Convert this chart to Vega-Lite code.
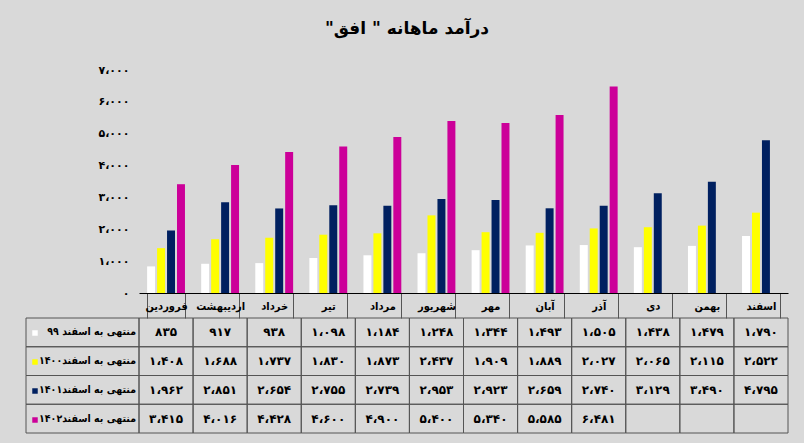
{
  "$schema": "https://vega.github.io/schema/vega-lite/v6.json",
  "background": "#d9d9d9",
  "padding": {"left": 25, "top": 20, "right": 17, "bottom": 10},
  "title": {"text": "درآمد ماهانه \" افق\"‏", "font": "DejaVu Sans", "fontSize": 17, "fontWeight": "bold", "color": "#000000", "anchor": "middle", "offset": 26},
  "config": {"view": {"stroke": null}, "font": "DejaVu Sans"},
  "datasets": {
    "d": [
      {"month": "فروردین", "series": "منتهی به اسفند ۹۹", "value": 835, "label": "۸۳۵"},
      {"month": "اردیبهشت", "series": "منتهی به اسفند ۹۹", "value": 917, "label": "۹۱۷"},
      {"month": "خرداد", "series": "منتهی به اسفند ۹۹", "value": 938, "label": "۹۳۸"},
      {"month": "تیر", "series": "منتهی به اسفند ۹۹", "value": 1098, "label": "۱،۰۹۸"},
      {"month": "مرداد", "series": "منتهی به اسفند ۹۹", "value": 1184, "label": "۱،۱۸۴"},
      {"month": "شهریور", "series": "منتهی به اسفند ۹۹", "value": 1248, "label": "۱،۲۴۸"},
      {"month": "مهر", "series": "منتهی به اسفند ۹۹", "value": 1344, "label": "۱،۳۴۴"},
      {"month": "آبان", "series": "منتهی به اسفند ۹۹", "value": 1493, "label": "۱،۴۹۳"},
      {"month": "آذر", "series": "منتهی به اسفند ۹۹", "value": 1505, "label": "۱،۵۰۵"},
      {"month": "دی", "series": "منتهی به اسفند ۹۹", "value": 1438, "label": "۱،۴۳۸"},
      {"month": "بهمن", "series": "منتهی به اسفند ۹۹", "value": 1479, "label": "۱،۴۷۹"},
      {"month": "اسفند", "series": "منتهی به اسفند ۹۹", "value": 1790, "label": "۱،۷۹۰"},
      {"month": "فروردین", "series": "منتهی به اسفند۱۴۰۰", "value": 1408, "label": "۱،۴۰۸"},
      {"month": "اردیبهشت", "series": "منتهی به اسفند۱۴۰۰", "value": 1688, "label": "۱،۶۸۸"},
      {"month": "خرداد", "series": "منتهی به اسفند۱۴۰۰", "value": 1737, "label": "۱،۷۳۷"},
      {"month": "تیر", "series": "منتهی به اسفند۱۴۰۰", "value": 1830, "label": "۱،۸۳۰"},
      {"month": "مرداد", "series": "منتهی به اسفند۱۴۰۰", "value": 1873, "label": "۱،۸۷۳"},
      {"month": "شهریور", "series": "منتهی به اسفند۱۴۰۰", "value": 2437, "label": "۲،۴۳۷"},
      {"month": "مهر", "series": "منتهی به اسفند۱۴۰۰", "value": 1909, "label": "۱،۹۰۹"},
      {"month": "آبان", "series": "منتهی به اسفند۱۴۰۰", "value": 1889, "label": "۱،۸۸۹"},
      {"month": "آذر", "series": "منتهی به اسفند۱۴۰۰", "value": 2027, "label": "۲،۰۲۷"},
      {"month": "دی", "series": "منتهی به اسفند۱۴۰۰", "value": 2065, "label": "۲،۰۶۵"},
      {"month": "بهمن", "series": "منتهی به اسفند۱۴۰۰", "value": 2115, "label": "۲،۱۱۵"},
      {"month": "اسفند", "series": "منتهی به اسفند۱۴۰۰", "value": 2522, "label": "۲،۵۲۲"},
      {"month": "فروردین", "series": "منتهی به اسفند۱۴۰۱", "value": 1962, "label": "۱،۹۶۲"},
      {"month": "اردیبهشت", "series": "منتهی به اسفند۱۴۰۱", "value": 2851, "label": "۲،۸۵۱"},
      {"month": "خرداد", "series": "منتهی به اسفند۱۴۰۱", "value": 2654, "label": "۲،۶۵۴"},
      {"month": "تیر", "series": "منتهی به اسفند۱۴۰۱", "value": 2755, "label": "۲،۷۵۵"},
      {"month": "مرداد", "series": "منتهی به اسفند۱۴۰۱", "value": 2739, "label": "۲،۷۳۹"},
      {"month": "شهریور", "series": "منتهی به اسفند۱۴۰۱", "value": 2953, "label": "۲،۹۵۳"},
      {"month": "مهر", "series": "منتهی به اسفند۱۴۰۱", "value": 2923, "label": "۲،۹۲۳"},
      {"month": "آبان", "series": "منتهی به اسفند۱۴۰۱", "value": 2659, "label": "۲،۶۵۹"},
      {"month": "آذر", "series": "منتهی به اسفند۱۴۰۱", "value": 2740, "label": "۲،۷۴۰"},
      {"month": "دی", "series": "منتهی به اسفند۱۴۰۱", "value": 3129, "label": "۳،۱۲۹"},
      {"month": "بهمن", "series": "منتهی به اسفند۱۴۰۱", "value": 3490, "label": "۳،۴۹۰"},
      {"month": "اسفند", "series": "منتهی به اسفند۱۴۰۱", "value": 4795, "label": "۴،۷۹۵"},
      {"month": "فروردین", "series": "منتهی به اسفند۱۴۰۲", "value": 3415, "label": "۳،۴۱۵"},
      {"month": "اردیبهشت", "series": "منتهی به اسفند۱۴۰۲", "value": 4016, "label": "۴،۰۱۶"},
      {"month": "خرداد", "series": "منتهی به اسفند۱۴۰۲", "value": 4428, "label": "۴،۴۲۸"},
      {"month": "تیر", "series": "منتهی به اسفند۱۴۰۲", "value": 4600, "label": "۴،۶۰۰"},
      {"month": "مرداد", "series": "منتهی به اسفند۱۴۰۲", "value": 4900, "label": "۴،۹۰۰"},
      {"month": "شهریور", "series": "منتهی به اسفند۱۴۰۲", "value": 5400, "label": "۵،۴۰۰"},
      {"month": "مهر", "series": "منتهی به اسفند۱۴۰۲", "value": 5340, "label": "۵،۳۴۰"},
      {"month": "آبان", "series": "منتهی به اسفند۱۴۰۲", "value": 5585, "label": "۵،۵۸۵"},
      {"month": "آذر", "series": "منتهی به اسفند۱۴۰۲", "value": 6481, "label": "۶،۴۸۱"},
      {"month": "دی", "series": "منتهی به اسفند۱۴۰۲", "value": null, "label": ""},
      {"month": "بهمن", "series": "منتهی به اسفند۱۴۰۲", "value": null, "label": ""},
      {"month": "اسفند", "series": "منتهی به اسفند۱۴۰۲", "value": null, "label": ""}
    ]
  },
  "data": {"name": "d"},
  "columns": 2,
  "spacing": {"row": 25, "column": 0},
  "bounds": "flush",
  "concat": [
    {
      "width": 113, "height": 223,
      "data": {"values": [{"a": 1}]},
      "mark": {"type": "text", "text": ""},
      "encoding": {}
    },
    {
      "width": 649, "height": 223,
      "mark": {"type": "bar"},
      "encoding": {
        "x": {
          "field": "month", "type": "nominal",
          "sort": ["فروردین", "اردیبهشت", "خرداد", "تیر", "مرداد", "شهریور", "مهر", "آبان", "آذر", "دی", "بهمن", "اسفند"],
          "scale": {"paddingInner": 0.3, "paddingOuter": 0.15},
          "axis": {"title": null, "orient": "bottom", "labelAngle": 0, "tickBand": "extent", "tickSize": 25, "tickColor": "#555555", "domainColor": "#000000", "labelFont": "DejaVu Sans Condensed", "labelFontWeight": "bold", "labelFontSize": 11, "labelColor": "#000000", "labelPadding": -12, "labelBaseline": "middle", "labelLimit": 52}
        },
        "xOffset": {"field": "series", "type": "nominal", "sort": ["منتهی به اسفند ۹۹", "منتهی به اسفند۱۴۰۰", "منتهی به اسفند۱۴۰۱", "منتهی به اسفند۱۴۰۲"], "scale": {"paddingInner": 0.2}},
        "y": {
          "field": "value", "type": "quantitative",
          "scale": {"domain": [0, 7000]},
          "axis": {"title": null, "values": [0, 1000, 2000, 3000, 4000, 5000, 6000, 7000], "grid": false, "domain": false, "ticks": false, "labelPadding": 10, "labelFontWeight": "bold", "labelFontSize": 11, "labelColor": "#000000",
            "labelExpr": "['۰','۱،۰۰۰','۲،۰۰۰','۳،۰۰۰','۴،۰۰۰','۵،۰۰۰','۶،۰۰۰','۷،۰۰۰'][round(datum.value/1000)]"}
        },
        "color": {
          "field": "series", "type": "nominal",
          "scale": {"domain": ["منتهی به اسفند ۹۹", "منتهی به اسفند۱۴۰۰", "منتهی به اسفند۱۴۰۱", "منتهی به اسفند۱۴۰۲"], "range": ["#ffffff", "#ffff00", "#002060", "#cc0099"]},
          "legend": {"orient": "none", "legendX": 4, "legendY": 258, "title": null, "symbolType": "square", "symbolSize": 30, "symbolStrokeWidth": 0, "labelExpr": "''", "labelLimit": 1, "rowPadding": 19, "direction": "vertical"}
        }
      }
    },
    {
      "width": 113, "height": 115,
      "transform": [{"aggregate": [{"op": "count", "as": "n"}], "groupby": ["series"]}],
      "encoding": {
        "y": {"field": "series", "type": "nominal", "sort": ["منتهی به اسفند ۹۹", "منتهی به اسفند۱۴۰۰", "منتهی به اسفند۱۴۰۱", "منتهی به اسفند۱۴۰۲"], "scale": {"paddingInner": 0, "paddingOuter": 0}, "axis": null}
      },
      "layer": [
        {"mark": {"type": "rect", "fill": "transparent", "stroke": "#555555", "strokeWidth": 1}},
        {"mark": {"type": "text", "align": "right", "dx": -3, "limit": 104, "fontWeight": "bold", "fontSize": 10.5, "color": "#000000", "font": "DejaVu Sans Condensed"},
         "encoding": {"x": {"value": "width"}, "text": {"field": "series"}}}
      ]
    },
    {
      "width": 649, "height": 115,
      "encoding": {
        "x": {"field": "month", "type": "nominal", "sort": ["فروردین", "اردیبهشت", "خرداد", "تیر", "مرداد", "شهریور", "مهر", "آبان", "آذر", "دی", "بهمن", "اسفند"], "scale": {"paddingInner": 0, "paddingOuter": 0}, "axis": null},
        "y": {"field": "series", "type": "nominal", "sort": ["منتهی به اسفند ۹۹", "منتهی به اسفند۱۴۰۰", "منتهی به اسفند۱۴۰۱", "منتهی به اسفند۱۴۰۲"], "scale": {"paddingInner": 0, "paddingOuter": 0}, "axis": null}
      },
      "layer": [
        {"mark": {"type": "rect", "fill": "transparent", "stroke": "#555555", "strokeWidth": 1}},
        {"mark": {"type": "text", "fontWeight": "bold", "fontSize": 12, "color": "#000000", "font": "DejaVu Sans"},
         "encoding": {"text": {"field": "label"}}}
      ]
    }
  ]
}
